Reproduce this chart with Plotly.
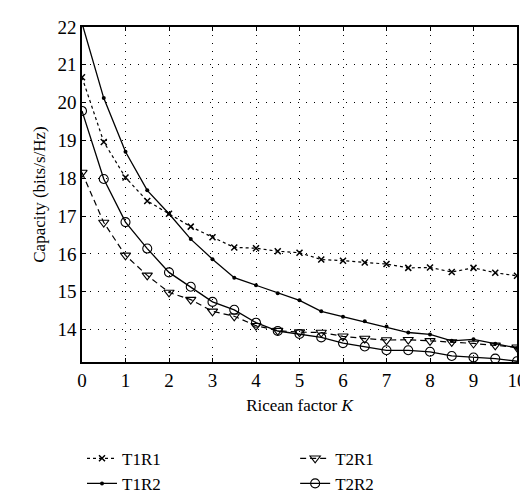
import plotly.graph_objects as go

K = [0, 0.5, 1, 1.5, 2, 2.5, 3, 3.5, 4, 4.5, 5, 5.5, 6, 6.5, 7, 7.5, 8, 8.5, 9, 9.5, 10]
t1r1 = [20.67, 18.96, 18.02, 17.40, 17.06, 16.72, 16.44, 16.17, 16.15, 16.07, 16.03,
        15.85, 15.82, 15.77, 15.73, 15.63, 15.64, 15.52, 15.63, 15.50, 15.42]
t1r2 = [22.1, 20.12, 18.70, 17.68, 17.06, 16.39, 15.86, 15.37, 15.17, 14.96, 14.77,
        14.48, 14.34, 14.22, 14.08, 13.92, 13.87, 13.70, 13.74, 13.62, 13.51]
t2r1 = [18.15, 16.83, 15.96, 15.43, 14.98, 14.79, 14.48, 14.35, 14.10, 13.97, 13.93,
        13.92, 13.82, 13.76, 13.72, 13.73, 13.70, 13.67, 13.63, 13.58, 13.53]
t2r2 = [19.78, 17.98, 16.84, 16.14, 15.51, 15.13, 14.73, 14.52, 14.18, 13.96, 13.88,
        13.79, 13.64, 13.55, 13.45, 13.45, 13.41, 13.30, 13.26, 13.23, 13.16]
x_ticks = [0, 1, 2, 3, 4, 5, 6, 7, 8, 9, 10]
y_ticks = [14, 15, 16, 17, 18, 19, 20, 21, 22]

FONT = "'Liberation Serif', 'DejaVu Serif', 'Times New Roman', serif"
fig = go.Figure()
fig.add_trace(go.Scatter(x=K, y=t1r1, name="T1R1", mode="lines+markers",
                         line=dict(color="black", width=1.2, dash="dot"),
                         marker=dict(symbol="x-thin", size=6, color="black",
                                     line=dict(width=1.5, color="black")),
                         legend="legend"))
fig.add_trace(go.Scatter(x=K, y=t1r2, name="T1R2", mode="lines+markers",
                         line=dict(color="black", width=1.3),
                         marker=dict(symbol="circle", size=4, color="black"),
                         legend="legend"))
fig.add_trace(go.Scatter(x=K, y=t2r1, name="T2R1", mode="lines+markers",
                         line=dict(color="black", width=1.2, dash="6px,4px"),
                         marker=dict(symbol="triangle-down-open", size=9, color="black",
                                     line=dict(width=1.1, color="black")),
                         legend="legend2"))
fig.add_trace(go.Scatter(x=K, y=t2r2, name="T2R2", mode="lines+markers",
                         line=dict(color="black", width=1.3),
                         marker=dict(symbol="circle-open", size=9, color="black",
                                     line=dict(width=1.1, color="black")),
                         legend="legend2"))

axis_common = dict(showline=True, linecolor="black", linewidth=1.5, mirror="ticks",
                   ticks="inside", ticklen=4, tickcolor="black",
                   showgrid=True, gridcolor="black", gridwidth=1, griddash="1px,7px",
                   zeroline=False, tickfont=dict(family=FONT, size=19, color="black"))

fig.update_layout(
    width=528, height=503,
    margin=dict(l=74, r=9, t=15, b=135),
    plot_bgcolor="white", paper_bgcolor="white",
    font=dict(family=FONT, color="black"),
    xaxis=dict(range=[0, 10], tickvals=x_ticks, title=dict(text="Ricean factor <i>K</i>",
               font=dict(family=FONT, size=17), standoff=10), **axis_common),
    yaxis=dict(range=[13.14, 22], tickvals=y_ticks, title=dict(text="Capacity (bits/s/Hz)",
               font=dict(family=FONT, size=17), standoff=8), **axis_common),
    legend=dict(x=0.0, y=-0.235, xanchor="left", yanchor="top", orientation="v",
                font=dict(family=FONT, size=17), tracegroupgap=0,
                bgcolor="rgba(0,0,0,0)", itemwidth=30),
    legend2=dict(x=0.49, y=-0.235, xanchor="left", yanchor="top", orientation="v",
                 font=dict(family=FONT, size=17), tracegroupgap=0,
                 bgcolor="rgba(0,0,0,0)", itemwidth=30),
    showlegend=True,
)

fig.write_html("out.html")
